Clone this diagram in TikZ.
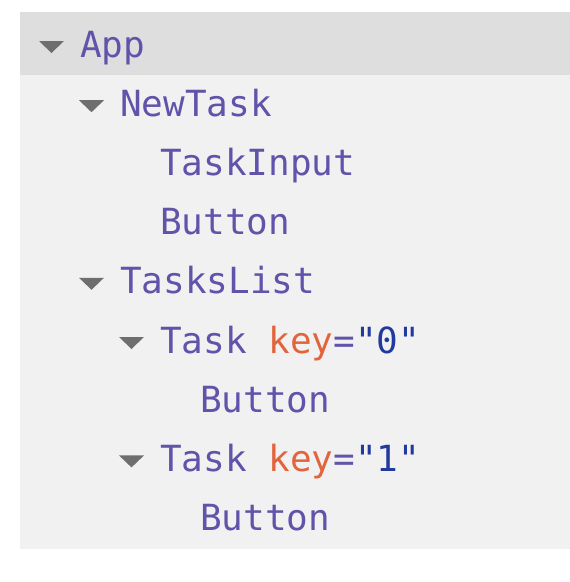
\documentclass[tikz,border=0pt]{standalone}
\usepackage{fontspec}
\setmonofont{DejaVu Sans Mono}

\definecolor{tagc}{RGB}{97,82,170}
\definecolor{keyc}{RGB}{226,100,60}
\definecolor{valc}{RGB}{33,58,158}
\definecolor{rowsel}{RGB}{222,222,222}
\definecolor{panelc}{RGB}{241,241,241}
\definecolor{caretc}{RGB}{110,110,110}

\begin{document}
\begin{tikzpicture}
  [x=1pt,y=-1pt,every node/.style={anchor=base west,inner sep=0pt,text=tagc,
    font=\fontsize{36}{36}\selectfont\ttfamily}]
  \useasboundingbox (0,0) rectangle (570,582);
  \fill[panelc] (20,12) rectangle (570,549);
  \fill[rowsel] (20,12) rectangle (570,75);

  \foreach \name/\lvl/\row/\txt in {app/0/0/App, newtask/1/1/NewTask,
      taskinput/2/2/TaskInput, btna/2/3/Button, taskslist/1/4/TasksList,
      taskzero/2/5/{Task \textcolor{keyc}{key}=\textcolor{valc}{"0"}}, btnb/3/6/Button,
      taskone/2/7/{Task \textcolor{keyc}{key}=\textcolor{valc}{"1"}}, btnc/3/8/Button}
    \node (\name) at (80+40*\lvl, 57+59.2*\row) {\txt};

  \foreach \name in {app,newtask,taskslist,taskzero,taskone}
    \fill[caretc,shift={(\name.base west)}] (-41,-16) -- (-16,-16) -- (-28.5,-4) -- cycle;

\end{tikzpicture}
\end{document}
